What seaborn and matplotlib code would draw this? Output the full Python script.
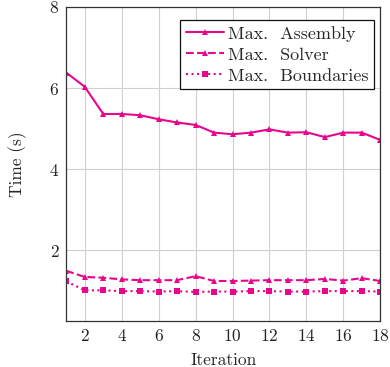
import matplotlib
matplotlib.use("Agg")
import matplotlib.pyplot as plt
import seaborn as sns
import pandas as pd
import numpy as np

sns.set_style("ticks")
plt.rcParams['font.family'] = 'serif'
plt.rcParams['font.serif'] = ['cmr10', 'DejaVu Serif']
plt.rcParams['mathtext.fontset'] = 'cm'
plt.rcParams['axes.formatter.use_mathtext'] = True

# data
iteration = list(range(1, 19))
assembly = [6.38, 6.03, 5.36, 5.36, 5.33, 5.23, 5.15, 5.09, 4.90, 4.86,
            4.90, 4.98, 4.90, 4.91, 4.79, 4.90, 4.90, 4.72]
solver = [1.49, 1.34, 1.32, 1.28, 1.26, 1.26, 1.26, 1.36, 1.24, 1.24,
          1.25, 1.26, 1.26, 1.26, 1.29, 1.25, 1.31, 1.24]
boundaries = [1.23, 1.01, 1.01, 0.99, 0.99, 0.98, 0.99, 0.97, 0.98, 0.98,
              0.99, 0.99, 0.98, 0.98, 0.99, 0.99, 0.99, 0.98]
names = ['Max.  Assembly', 'Max.  Solver', 'Max.  Boundaries']

df = pd.DataFrame({'Iteration': iteration, names[0]: assembly,
                   names[1]: solver, names[2]: boundaries})
long = df.melt(id_vars='Iteration', var_name='series', value_name='Time')

col = '#e8068c'
fig = plt.figure(figsize=(3.9, 3.67), dpi=100)
ax = fig.add_axes([0.170, 0.125, 0.805, 0.856])

styles = {names[0]: ('-', '^'), names[1]: ('--', '^'), names[2]: (':', 's')}
for nm in names:
    ls, mk = styles[nm]
    sub = long[long.series == nm]
    sns.lineplot(data=sub, x='Iteration', y='Time', ax=ax, color=col,
                 linestyle=ls, marker=mk, markersize=4, markeredgewidth=0,
                 linewidth=1.5, label=nm)

ax.set_xlim(1, 18)
ax.set_ylim(0.25, 8)
ax.set_xticks(range(2, 19, 2))
ax.set_yticks([2, 4, 6, 8])
ax.grid(True, color='#d0d0d0', linewidth=0.8)
ax.set_axisbelow(True)
for s in ax.spines.values():
    s.set_color('#333333')
    s.set_linewidth(0.9)
ax.tick_params(length=0, labelsize=12.5, colors='#222222', pad=5)
ax.set_xlabel('Iteration', fontsize=12.5, labelpad=6)
ax.set_ylabel('Time (s)', fontsize=12.5, labelpad=16)

leg = ax.legend(loc='upper right', bbox_to_anchor=(374 / 390, 1 - 20 / 367),
                bbox_transform=fig.transFigure, borderaxespad=0,
                fontsize=13, frameon=True, fancybox=False,
                edgecolor='#111111', framealpha=1,
                handlelength=2.1, handletextpad=0.2, labelspacing=0.3,
                borderpad=0.32)
leg.get_frame().set_linewidth(0.9)

fig.savefig('out.png', dpi=100)
